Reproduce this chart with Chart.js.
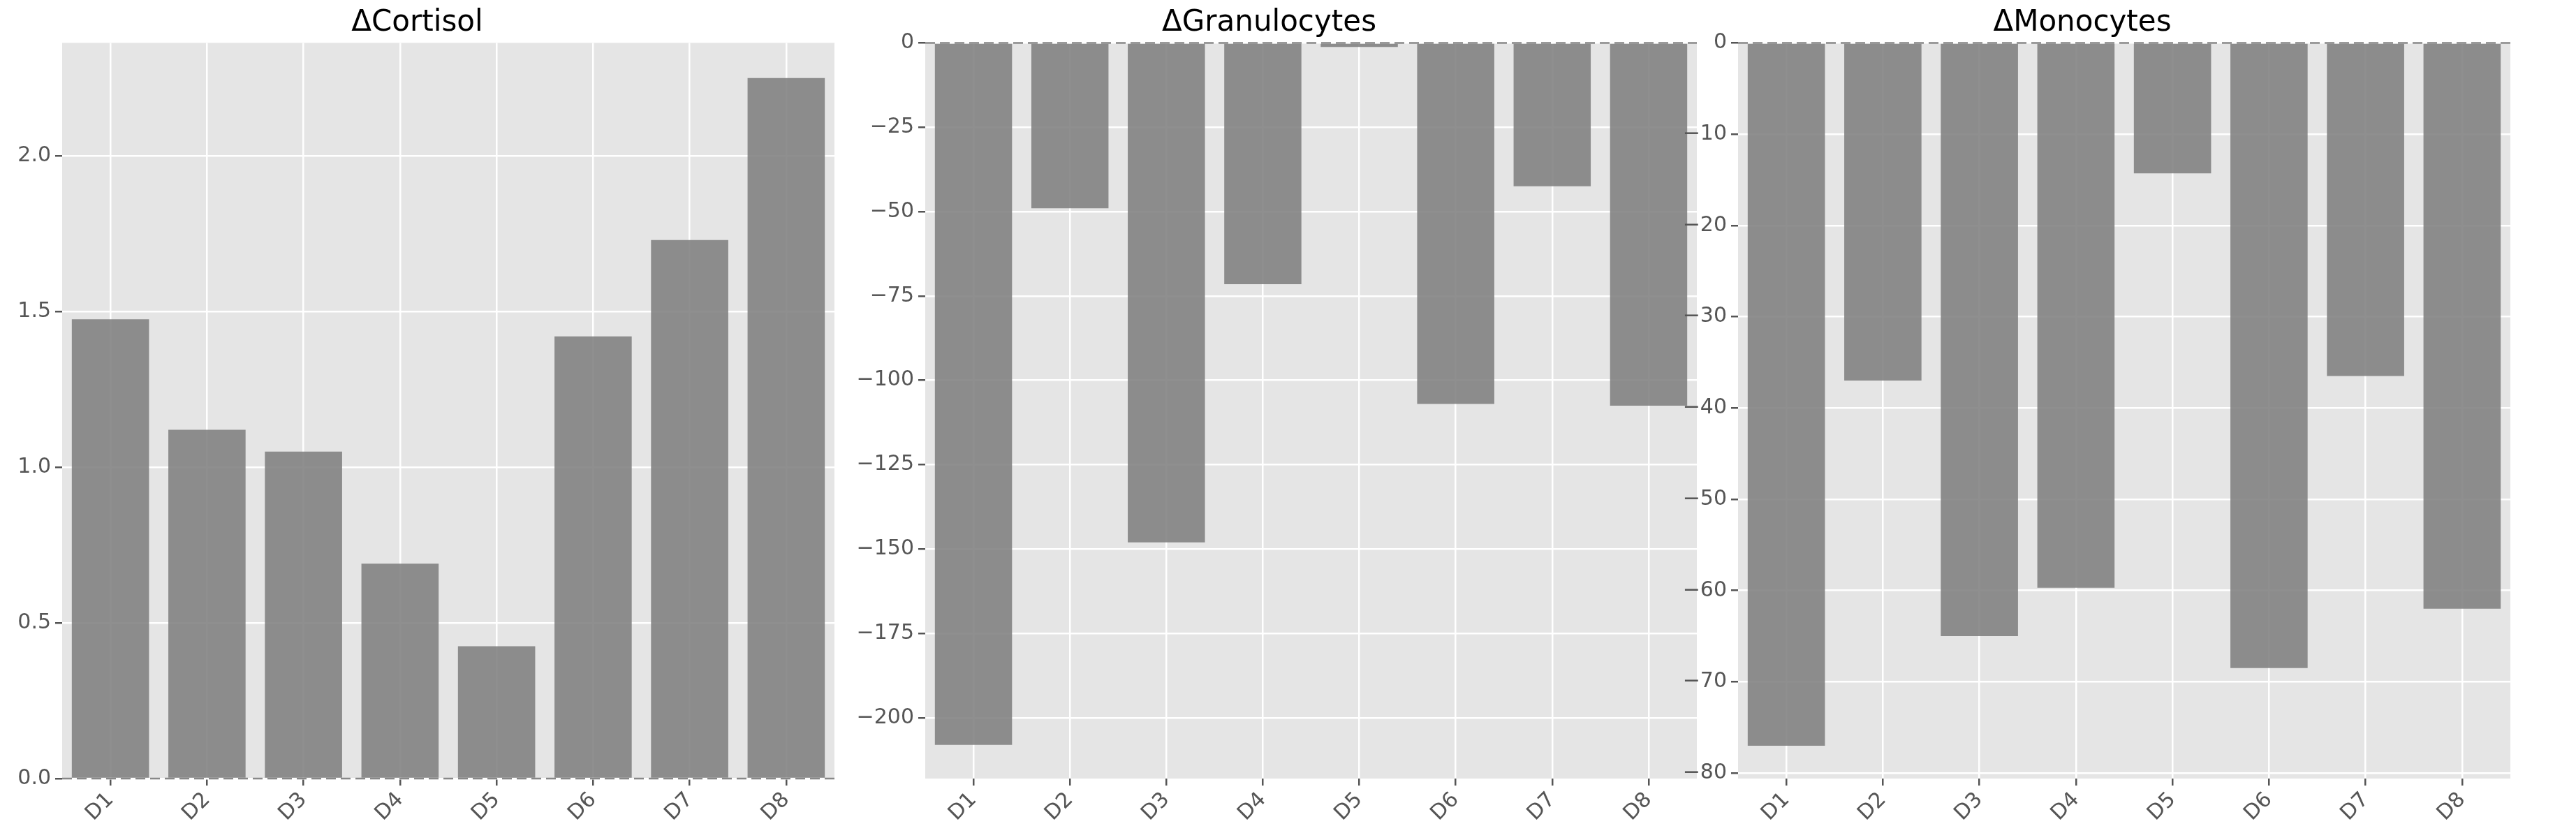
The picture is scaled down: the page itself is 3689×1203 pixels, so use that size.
<!DOCTYPE html>
<html><head><meta charset="utf-8">
<script src="https://cdn.jsdelivr.net/npm/chart.js@4"></script>
<style>body{margin:0;background:#fff;width:3689px;height:1203px;position:relative;overflow:hidden}
.c{position:absolute;top:0;height:1203px}</style></head><body>
<div class="c" style="left:0;width:1210px"><canvas id="c1"></canvas></div>
<div class="c" style="left:1205px;width:1240px"><canvas id="c2"></canvas></div>
<div class="c" style="left:2369px;width:1241px"><canvas id="c3"></canvas></div>
<script>
const categories=['D1','D2','D3','D4','D5','D6','D7','D8'];
const cortisol=[1.475,1.12,1.05,0.69,0.425,1.42,1.73,2.25];
const granulocytes=[-208,-49,-148,-71.5,-1.2,-107,-42.5,-107.5];
const monocytes=[-77,-37,-65,-59.7,-14.3,-68.5,-36.5,-62];
const titles=['ΔCortisol','ΔGranulocytes','ΔMonocytes'];
const FONT='"DejaVu Sans"';
const bg={id:'bg',beforeDraw(ch){const a=ch.chartArea,c=ch.ctx;c.save();c.fillStyle='#e5e5e5';c.fillRect(a.left,a.top,a.right-a.left,a.bottom-a.top);c.restore();}};
const zeroLine={id:'zeroLine',afterDatasetsDraw(ch){const y=ch.scales.y.getPixelForValue(0),a=ch.chartArea,c=ch.ctx;c.save();c.strokeStyle='#888';c.lineWidth=2.5;c.setLineDash([14,7]);c.beginPath();c.moveTo(a.left,y);c.lineTo(a.right,y);c.stroke();c.restore();}};
function make(id,title,data,min,max,step,yw){
 new Chart(document.getElementById(id),{type:'bar',
  data:{labels:categories,datasets:[{data,backgroundColor:'rgba(128,128,128,0.88)',categoryPercentage:1,barPercentage:0.8}]},
  options:{responsive:true,maintainAspectRatio:false,animation:false,devicePixelRatio:1,
   layout:{padding:{right:15}},
   plugins:{legend:{display:false},tooltip:{enabled:false},
    title:{display:true,text:title,color:'#000',font:{family:FONT,size:42,weight:'normal'},padding:{top:8,bottom:3}}},
   scales:{
    x:{offset:true,grid:{color:'#fff',lineWidth:2.5,offset:false,tickColor:'#555',tickLength:10},border:{display:false},
       ticks:{color:'#555',font:{family:FONT,size:30},minRotation:45,maxRotation:45},
       afterFit(s){s.height=88;}},
    y:{min,max,grid:{color:'#fff',lineWidth:2.5,tickColor:'#555',tickLength:10},border:{display:false},
       ticks:{color:'#555',font:{family:FONT,size:30},padding:6,
        callback:v=>(step<1?v.toFixed(1):String(Math.round(v))).replace('-','\u2212')},
       afterBuildTicks(s){const t=[];for(let k=Math.ceil(min/step-1e-9);k<=Math.floor(max/step+1e-9);k++)t.push({value:k*step});s.ticks=t;},
       afterFit(s){s.width=yw;}}}},
  plugins:[bg,zeroLine]});
}
make('c1',titles[0],cortisol,0,2.363,0.5,89);
make('c2',titles[1],granulocytes,-218,0,25,120);
make('c3',titles[2],monocytes,-80.6,0,10,120);
</script></body></html>
